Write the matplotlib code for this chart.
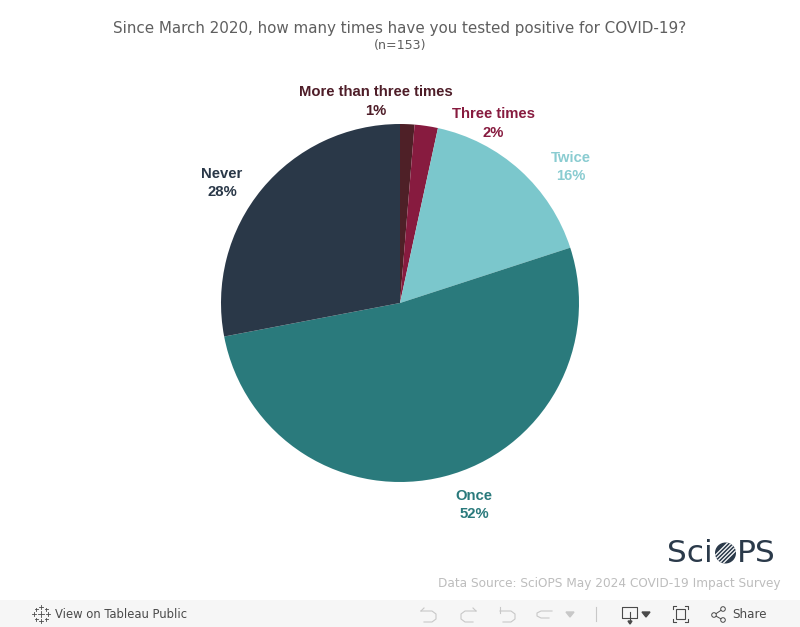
import matplotlib
matplotlib.use('Agg')
import matplotlib.pyplot as plt
from matplotlib.patches import Circle, Rectangle

# data, clockwise from 12 o'clock
categories = ['More than three times', 'Three times', 'Twice', 'Once', 'Never']
shares = [1.3, 2.1, 16.6, 52.0, 28.0]
pct_labels = ['1%', '2%', '16%', '52%', '28%']
colors = ['#4e2027', '#871b3f', '#7bc7cc', '#2a7a7c', '#2a3848']
label_colors = ['#4e1d28', '#871b3f', '#8accd1', '#2a7a7c', '#2a3848']
label_xy = [(376, 101), (493, 123), (571, 166), (474, 504), (222, 182)]

W, H = 800, 627
fig = plt.figure(figsize=(W / 100, H / 100), dpi=100)
ax = fig.add_axes([0, 0, 1, 1])
ax.set_xlim(0, W)
ax.set_ylim(H, 0)
ax.axis('off')
ax.set_aspect('equal')

GREY = '#5f5f5f'
ax.text(400, 29, 'Since March 2020, how many times have you tested positive for COVID-19?',
        ha='center', va='center', fontsize=10.9, color=GREY, family='DejaVu Sans')
ax.text(400, 45, '(n=153)', ha='center', va='center', fontsize=9.1, color=GREY, family='DejaVu Sans')

# pie gets its own axes, placed in pixels
pie_ax = fig.add_axes([(400 - 179) / W, 1 - (303 + 179) / H, 358 / W, 358 / H])
pie_ax.pie(shares, colors=colors, startangle=90, counterclock=False, radius=1.0,
           wedgeprops={'linewidth': 0})
pie_ax.set_xlim(-1, 1)
pie_ax.set_ylim(-1, 1)
pie_ax.axis('off')

for name, pct, col, (x, y) in zip(categories, pct_labels, label_colors, label_xy):
    ax.text(x, y - 8.5, name, ha='center', va='center', fontsize=10.7, fontweight='bold',
            color=col, family='Liberation Sans')
    ax.text(x, y + 10, pct, ha='center', va='center', fontsize=10.7, fontweight='bold',
            color=col, family='Liberation Sans')

# logo
LOGO = '#2b3a4a'
ax.text(667, 553, 'Sci', ha='left', va='center', fontsize=22.5, color=LOGO, family='DejaVu Sans')
ax.text(776, 553, 'PS', ha='right', va='center', fontsize=22.5, color=LOGO, family='DejaVu Sans')
badge = Circle((725.5, 553), 10.5, fc=LOGO, ec='none', zorder=3)
ax.add_patch(badge)
for off in (-8, -4, 0, 4, 8):
    ln, = ax.plot([725.5 - 10 + off, 725.5 + 10 + off], [563, 543], color='white', lw=0.9, zorder=4)
    ln.set_clip_path(badge)

ax.text(780, 584, 'Data Source: SciOPS May 2024 COVID-19 Impact Survey', ha='right', va='center',
        fontsize=8.7, color='#bdbdbd', family='DejaVu Sans')

# toolbar
ax.add_patch(Rectangle((0, 600), W, 27, fc='#f6f6f6', ec='none'))
TXT = '#4a4a4a'
ax.text(55, 614, 'View on Tableau Public', ha='left', va='center', fontsize=9.3, color=TXT,
        family='DejaVu Sans', stretch='condensed')
ax.text(732, 614, 'Share', ha='left', va='center', fontsize=8.6, color=TXT, family='DejaVu Sans')
# tableau mark
for cx, cy, s in [(41, 614, 3), (41, 607, 2), (41, 621, 2), (34, 614, 2), (48, 614, 2),
                  (36, 609, 1.5), (46, 609, 1.5), (36, 619, 1.5), (46, 619, 1.5)]:
    ax.plot([cx - s, cx + s], [cy, cy], color=TXT, lw=0.6)
    ax.plot([cx, cx], [cy - s, cy + s], color=TXT, lw=0.6)
# undo / redo / revert / refresh
ICON = '#c8c8c8'
ax.plot([421, 432, 436, 436, 432, 424], [611, 611, 614, 619, 622, 622], color=ICON, lw=0.8)
ax.plot([421, 424], [611, 608], color=ICON, lw=0.8)
ax.plot([476, 465, 461, 461, 465, 473], [611, 611, 614, 619, 622, 622], color=ICON, lw=0.8)
ax.plot([476, 473], [611, 608], color=ICON, lw=0.8)
ax.plot([500, 511, 515, 515, 511, 503], [611, 611, 614, 619, 622, 622], color=ICON, lw=0.8)
ax.plot([500, 500], [607, 613], color=ICON, lw=0.8)
ax.plot([552, 541, 537, 537, 541, 549], [611, 611, 613, 616, 618, 618], color=ICON, lw=0.8)
ax.fill([566, 574, 570], [612, 612, 617], color=ICON)
ax.plot([595.5, 595.5], [607, 621], color=ICON, lw=0.8)
# download
ax.plot([630, 622, 622, 637, 637, 630], [618, 618, 607, 607, 618, 618], color=TXT, lw=0.8)
ax.plot([630, 630], [612, 623], color=TXT, lw=0.8)
ax.fill([628, 632, 630], [621, 621, 624], color=TXT)
ax.fill([642, 650, 646], [612, 612, 617], color=TXT)
# full screen
ax.add_patch(Rectangle((676, 609), 9, 10, fc='none', ec=TXT, lw=0.8))
for x0, y0, dx, dy in [(673, 606, 3, 3), (688, 606, -3, 3), (673, 622, 3, -3), (688, 622, -3, -3)]:
    ax.plot([x0 + dx, x0, x0], [y0, y0, y0 + dy], color=TXT, lw=0.8)
# share icon
ax.plot([723, 714, 723], [609, 615, 620], color=TXT, lw=0.7)
for c in [(723, 609), (714, 615), (723, 620)]:
    ax.add_patch(Circle(c, 2.3, fc='#f6f6f6', ec=TXT, lw=0.7, zorder=3))

fig.savefig('out.png', dpi=100)
